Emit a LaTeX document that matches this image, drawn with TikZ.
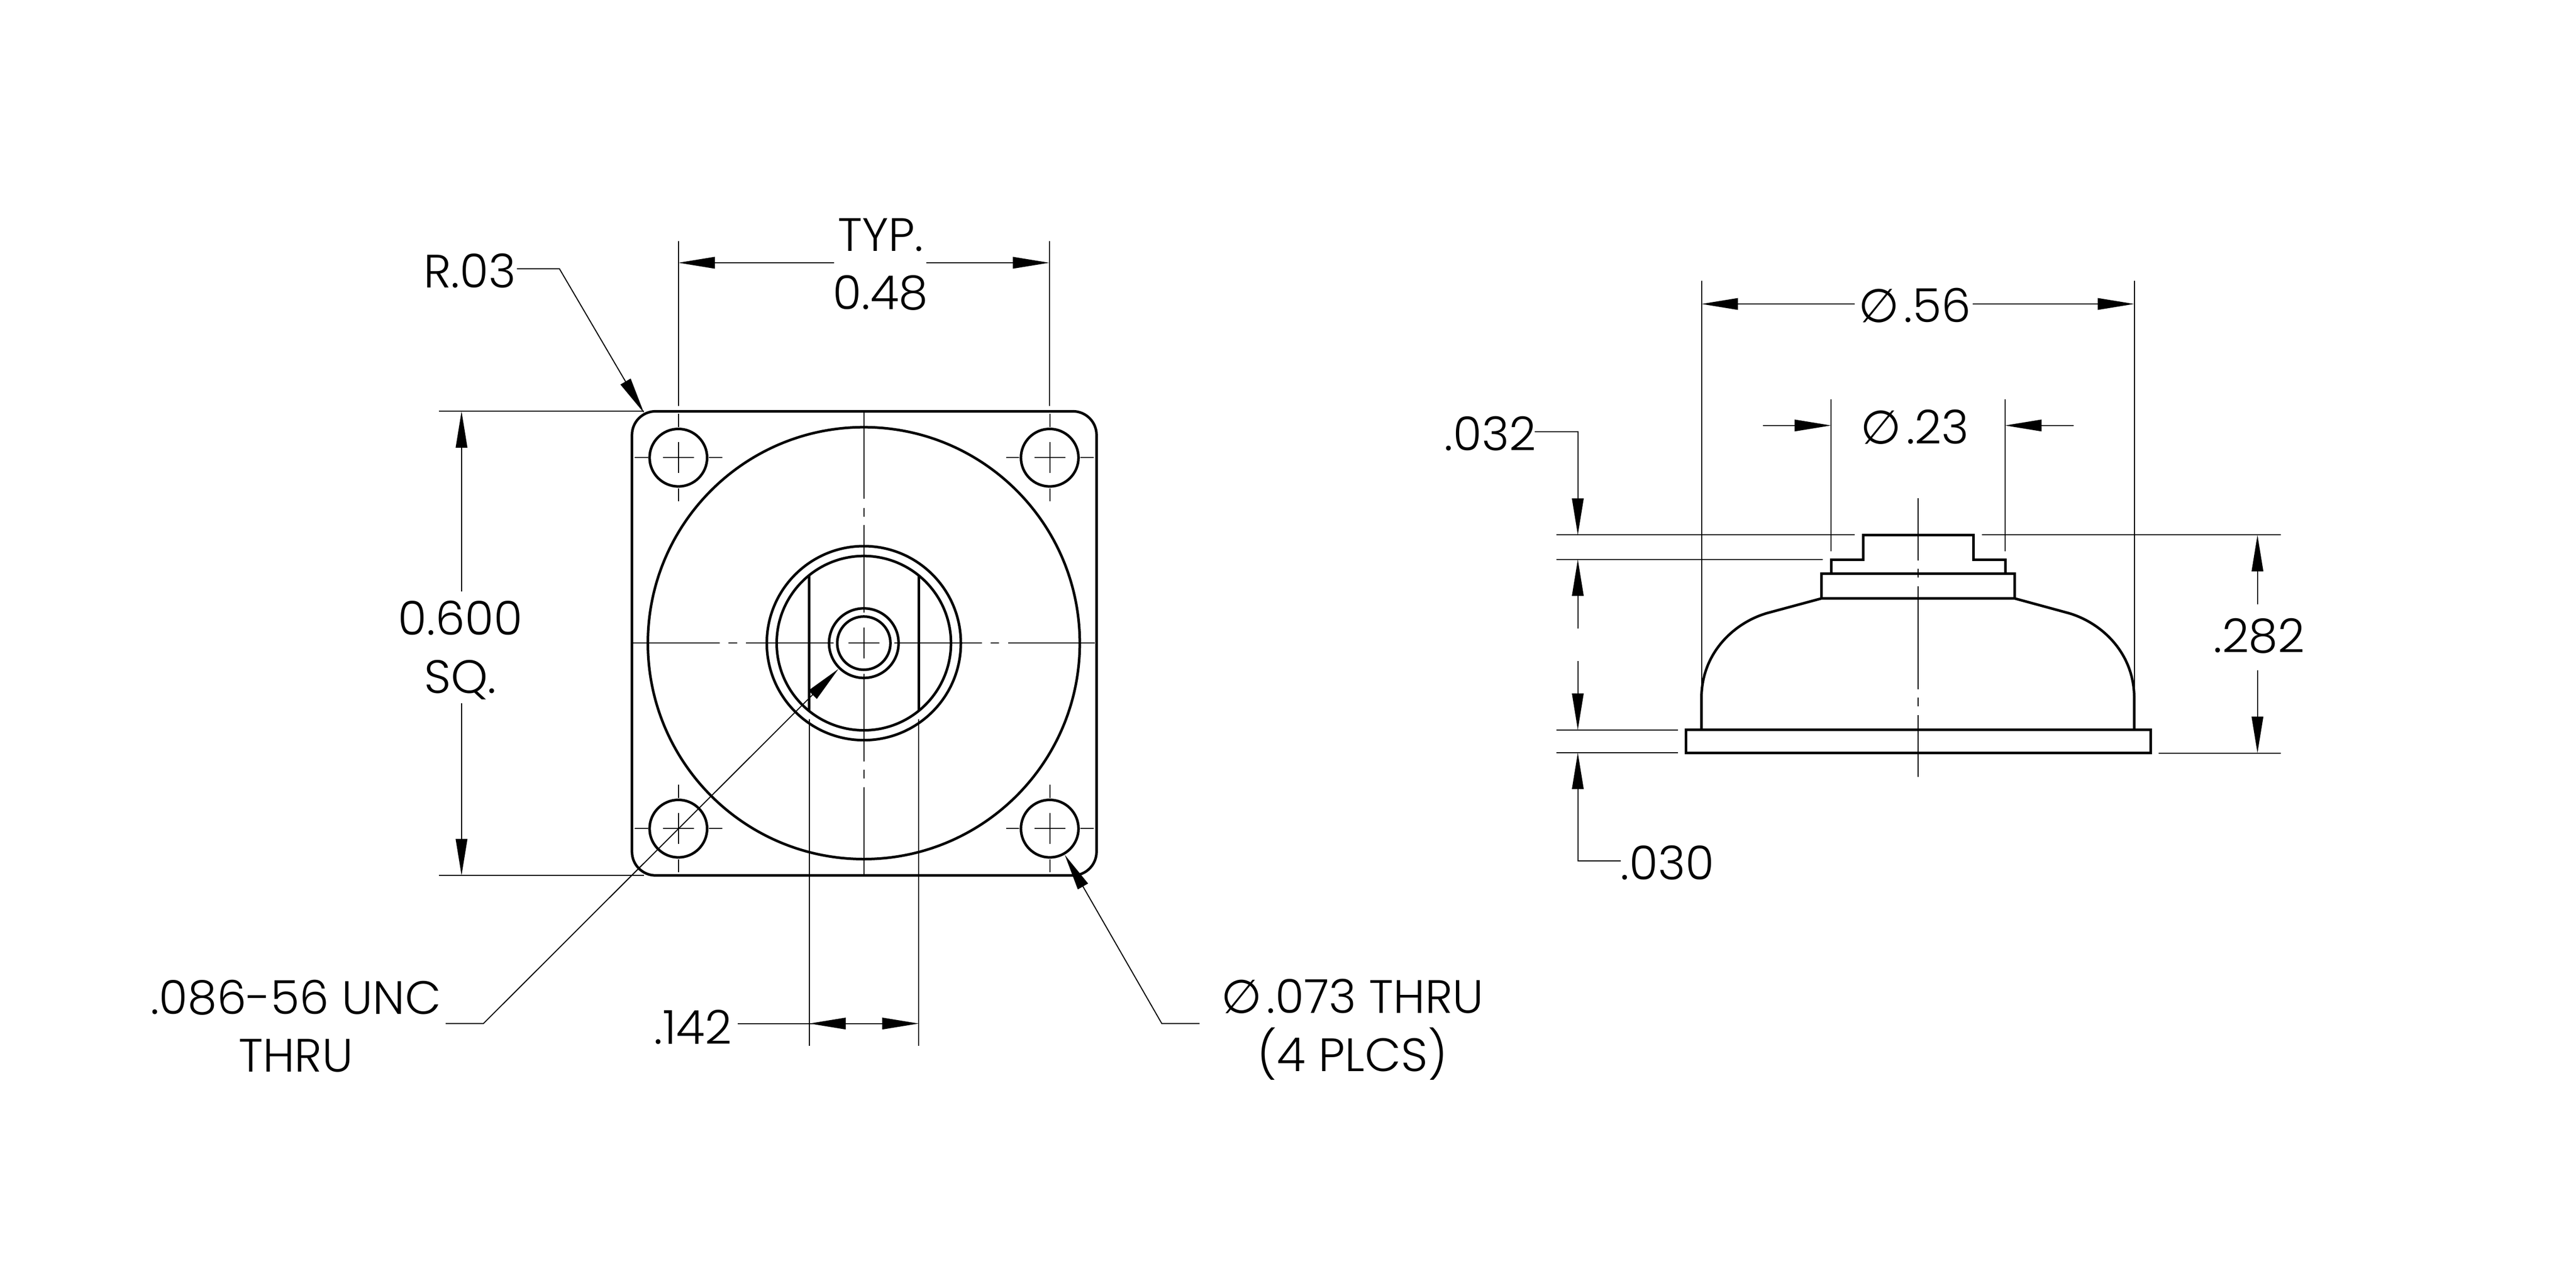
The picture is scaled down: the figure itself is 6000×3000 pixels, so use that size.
\documentclass[tikz,border=0pt]{standalone}
\usepackage{fontspec}
\usepackage{tikz}
\usetikzlibrary{arrows.meta}
\setmainfont{Poppins Light}
\newfontfamily\symfont{DejaVu Sans}
\newcommand{\dia}{{\symfont ∅}\hspace{0.1em}}
\tikzset{
    partline/.style={line width=0.06cm},
    thinline/.style={line width=0.024cm},
    dimtip/.style={-{Triangle[length=0.85cm,width=0.27cm]},line width=0.024cm},
    dimtext/.style={inner sep=0pt,align=center,font=\fontsize{31}{38.5}\selectfont}
}
\begin{document}
\begin{tikzpicture}[x=0.01cm,y=-0.01cm]
    \useasboundingbox (0,0) rectangle (6000,3000);
    % front view
    \draw [partline,rounded corners=0.55cm] (1472,958) rectangle (2554,2039);
    \draw [partline] (2012,1498) circle (503);
    \draw [partline] (2012,1498) circle (226);
    \draw [partline] (2012,1498) circle (203);
    \draw [partline] (2012,1498) circle (81);
    \draw [partline] (2012,1498) circle (62);
    \draw [partline] (1885,1340) -- (1885,1656);
    \draw [partline] (2140,1340) -- (2140,1656);
    % holes
    \foreach \hx in {1580,2445} {
        \foreach \hy in {1066,1930} {
            \draw [partline] (\hx,\hy) circle (67);
            \draw [thinline] (\hx-36,\hy) -- (\hx+36,\hy);
            \draw [thinline] (\hx,\hy-36) -- (\hx,\hy+36);
            \foreach \s in {-1,1} {
                \draw [thinline] (\hx+\s*71,\hy) -- (\hx+\s*102,\hy);
                \draw [thinline] (\hx,\hy+\s*71) -- (\hx,\hy+\s*102);
            }
        }
    }
    % center lines
    \draw [thinline] (1976,1498) -- (2048,1498);
    \draw [thinline] (2012,1462) -- (2012,1534);
    \foreach \s in {-1,1} {
        \foreach \a/\b in {71/275,295/315,336/538} {
            \draw [thinline] (2012+\s*\a,1498) -- (2012+\s*\b,1498);
            \draw [thinline] (2012,1498+\s*\a) -- (2012,1498+\s*\b);
        }
    }
    % front view dimensions
    \coordinate (w1) at (1580,612);
    \coordinate (w2) at (2444,612);
    \draw [thinline] (1580,562) -- (1580,946);
    \draw [thinline] (2444,562) -- (2444,946);
    \node [dimtext] (typ) at (2051,616) {TYP.\\0.48};
    \draw [dimtip] (1943,612) -- (w1);
    \draw [dimtip] (2157,612) -- (w2);
    \coordinate (h1) at (1075,958);
    \coordinate (h2) at (1075,2039);
    \draw [thinline] (1022,958) -- (1500,958);
    \draw [thinline] (1022,2039) -- (1500,2039);
    \node [dimtext] (sq) at (1072,1514) {0.600\\SQ.};
    \draw [dimtip] (1075,1378) -- (h1);
    \draw [dimtip] (1075,1638) -- (h2);
    \node [dimtext] (rad) at (1094,631) {R.03};
    \coordinate (radtip) at (1500,962);
    \draw [dimtip] (1204,626) -- (1303,626) -- (radtip);
    \node [dimtext] (tap) at (689,2390) {.086-56 UNC\\THRU};
    \coordinate (taptip) at (1953,1558);
    \draw [dimtip] (1038,2384) -- (1126,2384) -- (taptip);
    \node [dimtext] (thru) at (3150,2398) {\dia.073 THRU\\(4 PLCS)};
    \coordinate (holetip) at (2480,1991);
    \draw [dimtip] (2794,2384) -- (2706,2384) -- (holetip);
    \draw [thinline] (1885,1675) -- (1885,2436);
    \draw [thinline] (2140,1675) -- (2140,2436);
    \node [dimtext] (slot) at (1614,2392) {.142};
    \coordinate (s1) at (1885,2384);
    \coordinate (s2) at (2140,2384);
    \draw [dimtip] (1718,2384) -- (s2);
    \draw [dimtip] (2100,2384) -- (s1);
    % side view
    \draw [partline] (3927,1700) rectangle (5009,1754);
    \draw [partline] (4242,1336) rectangle (4693,1394);
    \draw [partline] (4265,1336) -- (4265,1304) -- (4340,1304) -- (4340,1246)
        -- (4596,1246) -- (4596,1304) -- (4671,1304) -- (4671,1336);
    \draw [partline] (4242,1394) -- (4116,1428)
        .. controls (4040,1450) and (3963,1520) .. (3963,1626) -- (3963,1700);
    \draw [partline] (4693,1394) -- (4818,1428)
        .. controls (4894,1450) and (4971,1520) .. (4971,1626) -- (4971,1700);
    \foreach \a/\b in {1160/1306,1325/1345,1366/1606,1625/1645,1666/1810} {
        \draw [thinline] (4467,\a) -- (4467,\b);
    }
    % side view dimensions
    \draw [thinline] (3963,654) -- (3963,1700);
    \draw [thinline] (4971,654) -- (4971,1700);
    \node [dimtext] (big) at (4460,711) {\dia.56};
    \coordinate (b1) at (3963,708);
    \coordinate (b2) at (4971,708);
    \draw [dimtip] (4320,708) -- (b1);
    \draw [dimtip] (4595,708) -- (b2);
    \draw [thinline] (4265,930) -- (4265,1284);
    \draw [thinline] (4670,930) -- (4670,1284);
    \node [dimtext] (small) at (4460,995) {\dia.23};
    \coordinate (c1) at (4265,991);
    \coordinate (c2) at (4670,991);
    \draw [dimtip] (4106,991) -- (c1);
    \draw [dimtip] (4830,991) -- (c2);
    \draw [thinline] (3625,1246) -- (4320,1246);
    \draw [thinline] (4616,1246) -- (5312,1246);
    \draw [thinline] (3625,1303) -- (4246,1303);
    \draw [thinline] (3625,1700) -- (3908,1700);
    \draw [thinline] (3625,1753) -- (3908,1753);
    \draw [thinline] (5028,1754) -- (5312,1754);
    \node [dimtext] (lip) at (3471,1010) {.032};
    \coordinate (lip1) at (3675,1246);
    \coordinate (lip2) at (3675,1303);
    \draw [dimtip] (3575,1005) -- (3675,1005) -- (lip1);
    \draw [dimtip] (3675,1464) -- (lip2);
    \node [dimtext] (flange) at (3884,2009) {.030};
    \coordinate (fl1) at (3675,1700);
    \coordinate (fl2) at (3675,1753);
    \draw [dimtip] (3675,1540) -- (fl1);
    \draw [dimtip] (3775,2005) -- (3675,2005) -- (fl2);
    \node [dimtext] (tall) at (5262,1481) {.282};
    \coordinate (t1) at (5258,1246);
    \coordinate (t2) at (5258,1754);
    \draw [dimtip] (5258,1408) -- (t1);
    \draw [dimtip] (5258,1561) -- (t2);
\end{tikzpicture}
\end{document}
